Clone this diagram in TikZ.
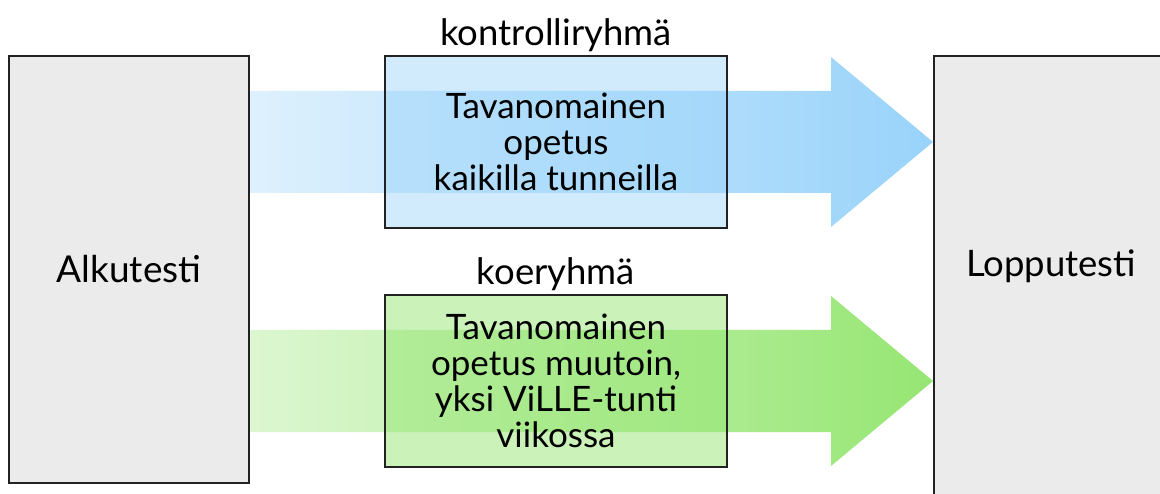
\documentclass[tikz,border=0pt]{standalone}
\usepackage{fontspec}
\setmainfont{Lato}
\usetikzlibrary{positioning, calc, backgrounds}

\definecolor{taivas}{HTML}{99D3FA}
\definecolor{lehti}{HTML}{96E673}
\definecolor{harmaa}{HTML}{EBEBEB}
\definecolor{reuna}{HTML}{222222}

\begin{document}
\begin{tikzpicture}[x=1pt, y=-1pt,
  testi/.style={draw=reuna, line width=1.6pt, fill=harmaa, inner sep=0pt},
  ryhma/.style={draw=reuna, line width=1.2pt, fill opacity=0.45, text opacity=1,
    minimum width=342pt, minimum height=172pt, align=center, inner sep=0pt,
    font=\fontsize{35}{36}\selectfont},
  otsikko/.style={inner sep=1pt, font=\fontsize{36.5}{38}\selectfont}]
\useasboundingbox (0,0) rectangle (1160,494);

% alku- ja loppumittaus
\node[testi, minimum width=240pt, minimum height=427pt,
  font=\fontsize{37}{40}\selectfont] (alku) at (129,269.5) {Alkutesti};
\node[testi, anchor=north west, minimum width=240pt, minimum height=470pt] (loppu) at (933,55) {};
\node[font=\fontsize{36.5}{40}\selectfont] (lopputxt) at (1051,266.5) {Lopputesti};

\coordinate (kk) at (556,142);
\coordinate (kg) at (556,381);

% nuolet taustalle
\begin{scope}[on background layer]
\shade[left color=taivas!33, right color=taivas]
  ($(alku.east |- kk)+(0,-51)$) -- ($(loppu.west |- kk)+(-102,-51)$) -- ++(0,-34)
  -- (loppu.west |- kk) -- ($(loppu.west |- kk)+(-102,85)$) -- ++(0,-34)
  -- ($(alku.east |- kk)+(0,51)$) -- cycle;
\shade[left color=lehti!33, right color=lehti]
  ($(alku.east |- kg)+(0,-51)$) -- ($(loppu.west |- kg)+(-102,-51)$) -- ++(0,-34)
  -- (loppu.west |- kg) -- ($(loppu.west |- kg)+(-102,85)$) -- ++(0,-34)
  -- ($(alku.east |- kg)+(0,51)$) -- cycle;
\end{scope}

% ryhmat
\node[ryhma, fill=taivas] (kbox) at (kk) {Tavanomainen\\opetus\\kaikilla tunneilla};
\node[ryhma, fill=lehti, fill opacity=0.5] (gbox) at (kg) {Tavanomainen\\opetus muutoin,\\yksi ViLLE-tunti\\viikossa};
\node[otsikko, above=2pt of kbox] (klbl) {kontrolliryhmä};
\node[otsikko, above=2pt of gbox] (glbl) {koeryhmä};
\end{tikzpicture}
\end{document}
